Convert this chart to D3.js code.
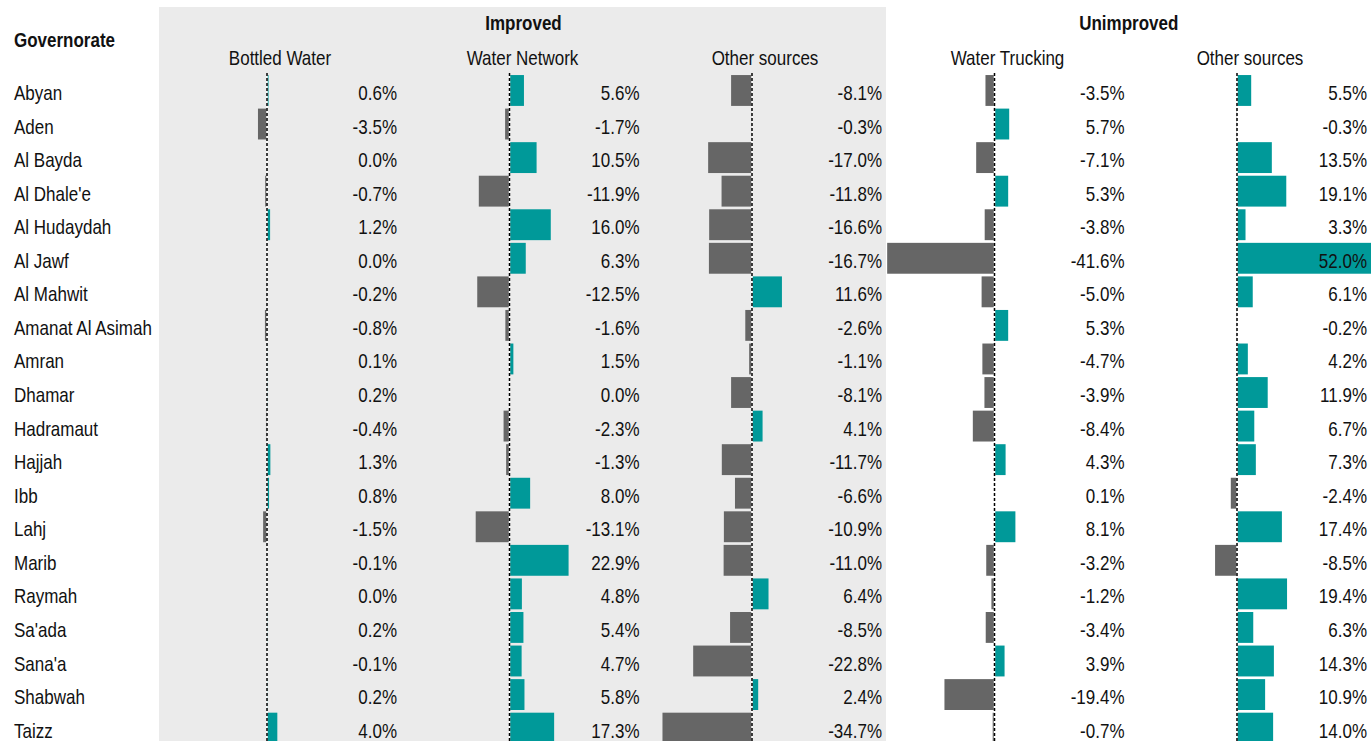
<!DOCTYPE html>
<html>
<head>
<meta charset="utf-8">
<script src="https://cdn.jsdelivr.net/npm/d3@7"></script>
<style>
  body { margin: 0; background: #fff; }
  text { font-family: "Liberation Sans", Arial, sans-serif; fill: #111; }
</style>
</head>
<body>
<script>
'use strict'

let width = 1371
let height = 741

// data
let governorates = ["Abyan", "Aden", "Al Bayda", "Al Dhale'e", "Al Hudaydah", "Al Jawf", "Al Mahwit",
  "Amanat Al Asimah", "Amran", "Dhamar", "Hadramaut", "Hajjah", "Ibb", "Lahj", "Marib", "Raymah",
  "Sa'ada", "Sana'a", "Shabwah", "Taizz"]
let groups = ["Improved", "Unimproved"]
let columns = ["Bottled Water", "Water Network", "Other sources", "Water Trucking", "Other sources"]

let bottledWater = [0.6, -3.5, 0.0, -0.7, 1.2, 0.0, -0.2, -0.8, 0.1, 0.2, -0.4, 1.3, 0.8, -1.5, -0.1, 0.0, 0.2, -0.1, 0.2, 4.0]
let waterNetwork = [5.6, -1.7, 10.5, -11.9, 16.0, 6.3, -12.5, -1.6, 1.5, 0.0, -2.3, -1.3, 8.0, -13.1, 22.9, 4.8, 5.4, 4.7, 5.8, 17.3]
let otherImproved = [-8.1, -0.3, -17.0, -11.8, -16.6, -16.7, 11.6, -2.6, -1.1, -8.1, 4.1, -11.7, -6.6, -10.9, -11.0, 6.4, -8.5, -22.8, 2.4, -34.7]
let waterTrucking = [-3.5, 5.7, -7.1, 5.3, -3.8, -41.6, -5.0, 5.3, -4.7, -3.9, -8.4, 4.3, 0.1, 8.1, -3.2, -1.2, -3.4, 3.9, -19.4, -0.7]
let otherUnimproved = [5.5, -0.3, 13.5, 19.1, 3.3, 52.0, 6.1, -0.2, 4.2, 11.9, 6.7, 7.3, -2.4, 17.4, -8.5, 19.4, 6.3, 14.3, 10.9, 14.0]

let series = [bottledWater, waterNetwork, otherImproved, waterTrucking, otherUnimproved]

let teal = "#009999"
let grey = "#666666"

let svg = d3.select("body").append("svg")
  .attr("width", width)
  .attr("height", height)

// text in the original is a bit stretched vertically
function place(x, y) {
  return "translate(" + x + "," + y + ") scale(1,1.2)"
}

// grey panel behind the improved columns
svg.append("rect")
  .attr("x", 159).attr("y", 7)
  .attr("width", 727).attr("height", height - 7)
  .attr("fill", "#ebebeb")

let y = d3.scaleBand()
  .domain(governorates)
  .range([73.7, 73.7 + 20 * 33.56])
  .paddingInner(0.08)
  .paddingOuter(0.04)

// zero line of each panel
let col = d3.scaleLinear().domain([0, 4]).range([267, 1237])
let x = d3.scaleLinear().domain([0, 1]).range([0, 2.58])

svg.append("text")
  .attr("transform", place(14, 47))
  .attr("font-size", 17).attr("font-weight", "bold")
  .text("Governorate")

svg.selectAll(".group")
  .data(groups)
  .enter().append("text")
  .attr("transform", (d, i) => place(i == 0 ? col(1) + 14 : (col(3) + col(4)) / 2 + 13, 29.5))
  .attr("text-anchor", "middle")
  .attr("font-size", 17).attr("font-weight", "bold")
  .text(d => d)

svg.append("g").selectAll("text")
  .data(columns)
  .enter().append("text")
  .attr("transform", (d, i) => place(col(i) + 13, 65))
  .attr("text-anchor", "middle")
  .attr("font-size", 17)
  .text(d => d)

svg.append("g").selectAll("text")
  .data(governorates)
  .enter().append("text")
  .attr("transform", d => place(14, y(d) + y.bandwidth() / 2 + 9.5))
  .attr("font-size", 17)
  .text(d => d)

series.forEach(function(vals, c) {
  let g = svg.append("g").attr("transform", "translate(" + col(c) + ",0)")

  g.selectAll("rect")
    .data(vals)
    .enter().append("rect")
    .attr("x", d => d < 0 ? x(d) : 0)
    .attr("y", (d, i) => y(governorates[i]))
    .attr("width", d => Math.abs(x(d) - x(0)))
    .attr("height", y.bandwidth())
    .attr("fill", d => d < 0 ? grey : teal)

  // zero line
  g.append("line")
    .attr("x1", 0).attr("x2", 0)
    .attr("y1", 73).attr("y2", height)
    .attr("stroke", "#fff").attr("stroke-width", 1.5)
  g.append("line")
    .attr("x1", 0).attr("x2", 0)
    .attr("y1", 73).attr("y2", height)
    .attr("stroke", "#000").attr("stroke-width", 1.5)
    .attr("stroke-dasharray", "3,2")

  g.selectAll(".lbl")
    .data(vals)
    .enter().append("text")
    .attr("transform", (d, i) => place(130, y(governorates[i]) + y.bandwidth() / 2 + 9.5))
    .attr("text-anchor", "end")
    .attr("font-size", 17)
    .text(d => d.toFixed(1) + "%")
})
</script>
</body>
</html>
